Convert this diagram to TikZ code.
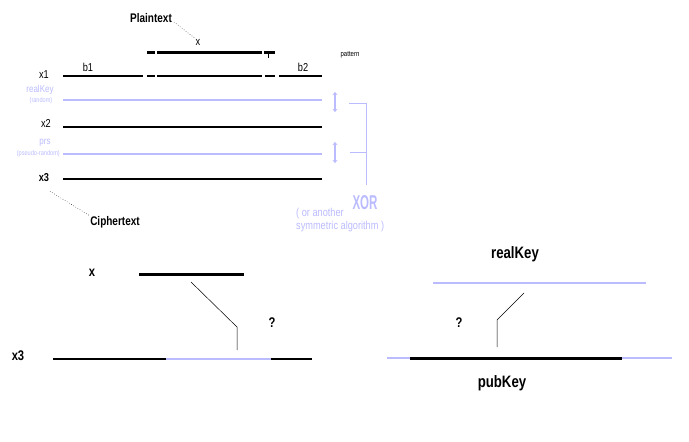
\documentclass[tikz,border=0pt]{standalone}
\usepackage{fontspec}
\usepackage{xcolor}
\usepackage{tikz}
\usetikzlibrary{arrows.meta, positioning}
\newfontfamily\pixfont[FakeStretch=0.8]{Liberation Sans}
\definecolor{keyblue}{HTML}{BBBBFF}

\begin{document}
\begin{tikzpicture}[x=1pt, y=-1pt,
  lbl/.style={font=\pixfont\bfseries\fontsize{12.5}{12.5}\selectfont, inner sep=0pt},
  big/.style={font=\pixfont\bfseries\fontsize{16.5}{16.5}\selectfont, inner sep=0pt},
  mid/.style={font=\pixfont\fontsize{11.5}{11.5}\selectfont, inner sep=0pt},
  tiny/.style={font=\pixfont\fontsize{7.5}{7.5}\selectfont, inner sep=0pt},
  soft/.style={font=\pixfont\fontsize{10}{10}\selectfont, inner sep=0pt, text=keyblue},
  softer/.style={font=\pixfont\fontsize{7}{7}\selectfont, inner sep=0pt, text=keyblue},
  bar/.style={line width=2pt, black},
  thickbar/.style={line width=3pt, black},
  keybar/.style={line width=2pt, keyblue},
  leader/.style={line width=0.5pt, black},
  dashlead/.style={line width=0.5pt, black, dotted},
  twoway/.style={{Stealth[length=3pt,width=5pt]}-{Stealth[length=3pt,width=5pt]}, line width=1.3pt, keyblue},
]
\useasboundingbox (0,0) rectangle (689,442);

% upper diagram
\node[lbl] (plain) at (151,18) {Plaintext};
\node[mid] (xsym) at (198,42) {x};
\draw[dashlead] (plain.east) ++(2,4) -- (xsym.north west);
\node[tiny] (pattern) at (350,55) {pattern};
\draw[thickbar] (147,52) -- (155,52);
\draw[thickbar] (157,52) -- (262,52);
\draw[thickbar] (264,52) -- (275,52);
\draw[line width=0.6pt] (268,52) -- (268,58);

\node[mid] (x1) at (44,75) {x1};
\node[mid] (b1) at (88,67) {b1};
\node[mid] (b2) at (303,67) {b2};
\foreach \a/\b in {63/143, 147/155, 157/262, 265/275, 279/322}
  \draw[bar] (\a,76) -- (\b,76);

\node[soft] (realkey) at (40,90) {realKey};
\node[softer] (random) at (41,101) {(random)};
\draw[keybar] (63,100) -- (322,100);

\node[mid] (x2) at (46,123) {x2};
\draw[bar] (63,127) -- (322,127);

\node[soft] (prs) at (45,143) {prs};
\node[softer, anchor=east] (pseudo) at (60,154) {(pseudo-random)};
\draw[keybar] (63,154) -- (322,154);

\node[mid, font=\pixfont\bfseries\fontsize{11.5}{11.5}\selectfont] (x3) at (44,178) {x3};
\draw[bar] (63,179) -- (322,179);
\node[lbl] (cipher) at (115,222) {Ciphertext};
\draw[dashlead] (x3.south) ++(6,9) -- (cipher.north west);

\draw[twoway] (335,92) -- (335,112);
\draw[twoway] (335,142) -- (335,163);
\draw[line width=1pt, keyblue] (349,103) -- (366,103) -- (366,185);
\draw[line width=1pt, keyblue] (350,152) -- (366,152);
\node[font=\pixfont\bfseries\fontsize{20}{20}\selectfont, inner sep=0pt, text=keyblue] (xor) at (365,203) {\scalebox{0.72}[1]{XOR}};
\node[soft, font=\pixfont\fontsize{11.5}{11.5}\selectfont, anchor=west] (other) at (296,214) {( or another};
\node[soft, font=\pixfont\fontsize{11.5}{11.5}\selectfont, anchor=west] (symm) at (296,227) {symmetric algorithm )};

% lower left
\node[lbl, font=\pixfont\bfseries\fontsize{14}{14}\selectfont] (xbig) at (92,273) {x};
\draw[thickbar] (139,274) -- (244,274);
\node[lbl, font=\pixfont\bfseries\fontsize{14}{14}\selectfont] (qleft) at (272,323) {?};
\node[big, font=\pixfont\bfseries\fontsize{14}{14}\selectfont] (x3big) at (18,356) {x3};
\draw[bar] (53,359) -- (166,359);
\draw[keybar] (166,359) -- (271,359);
\draw[bar] (271,359) -- (312,359);
\coordinate (lfrom) at (191,282);
\coordinate (lbend) at (237,327);
\coordinate (lto) at (237,350);
\draw[leader] (lfrom) -- (lbend) -- (lto);

% lower right
\node[big] (realbig) at (515,254) {realKey};
\draw[keybar] (433,283) -- (646,283);
\node[lbl, font=\pixfont\bfseries\fontsize{14}{14}\selectfont] (qright) at (459,323) {?};
\draw[keybar] (387,358) -- (410,358);
\draw[thickbar] (410,358) -- (622,358);
\draw[keybar] (622,358) -- (672,358);
\node[big] (pubbig) at (502,383) {pubKey};
\coordinate (rfrom) at (524,293);
\coordinate (rbend) at (497,320);
\coordinate (rto) at (497,347);
\draw[leader] (rfrom) -- (rbend) -- (rto);
\end{tikzpicture}
\end{document}
